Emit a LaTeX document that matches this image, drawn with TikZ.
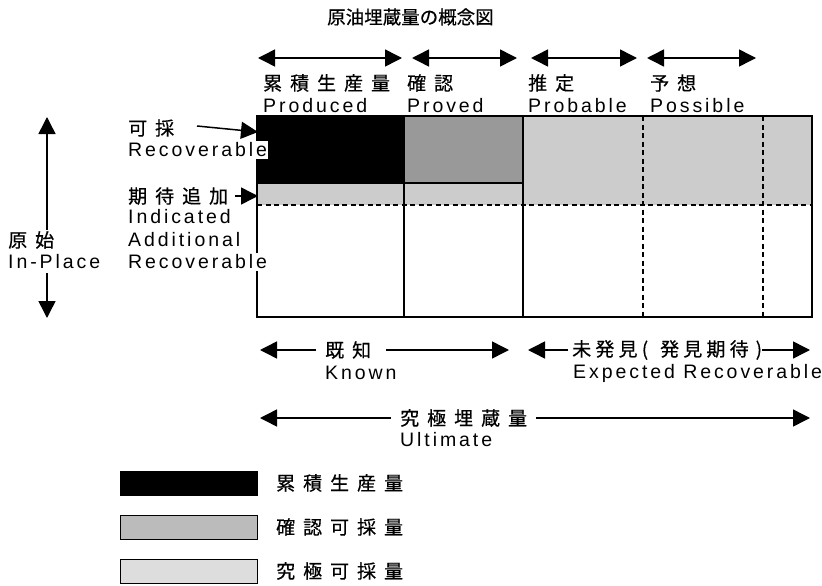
\documentclass[tikz,border=0pt]{standalone}
\usepackage{fontspec}
\setmainfont{Liberation Sans}
\newfontfamily\jpfont[FakeBold=0.5]{Noto Sans CJK JP}
\newfontfamily\jpspaced[LetterSpace=42,FakeBold=0.5]{Noto Sans CJK JP}
\newfontfamily\jptight[LetterSpace=22,FakeBold=0.5]{Noto Sans CJK JP}
\newfontfamily\latspaced[LetterSpace=15]{Liberation Sans}
\usetikzlibrary{arrows.meta}
\definecolor{provedgray}{HTML}{999999}
\definecolor{ultgray}{HTML}{CCCCCC}
\definecolor{leggray}{HTML}{BBBBBB}
\definecolor{leglight}{HTML}{DDDDDD}
\tikzset{
  lat/.style={anchor=west, inner sep=0pt, font=\fontsize{19.5}{19.5}\selectfont\latspaced},
  jp/.style={anchor=west, inner sep=0pt, font=\fontsize{19}{19}\selectfont\jpspaced},
  jptightstyle/.style={anchor=west, inner sep=0pt, font=\fontsize{19}{19}\selectfont\jptight},
  tip/.style={line width=1.5pt, -{Triangle[length=17pt,width=17pt]}},
  dtip/.style={line width=1.5pt, {Triangle[length=17pt,width=17pt]}-{Triangle[length=17pt,width=17pt]}},
  frame/.style={line width=1.3pt},
  dashline/.style={line width=1.3pt, dash pattern=on 5pt off 3.5pt},
  whitebg/.style={fill=white, inner sep=1.5pt}
}
\begin{document}
\begin{tikzpicture}[x=1pt,y=-1pt]
\useasboundingbox (0,0) rectangle (822,586);
% title
\node[anchor=west, inner sep=0pt, font=\fontsize{18.5}{18.5}\selectfont\jpfont] (title) at (327,17) {原油埋蔵量の概念図};
% top arrows
\coordinate (a1l) at (258,58); \coordinate (a1r) at (402,58);
\coordinate (a2l) at (412,58); \coordinate (a2r) at (517,58);
\coordinate (a3l) at (531,58); \coordinate (a3r) at (637,58);
\coordinate (a4l) at (647,58); \coordinate (a4r) at (756,58);
\draw[dtip] (a1l) -- (a1r);
\draw[dtip] (a2l) -- (a2r);
\draw[dtip] (a3l) -- (a3r);
\draw[dtip] (a4l) -- (a4r);
\node[jp] (jprod) at (263,83) {累積生産量};
\node[lat] (eprod) at (263,106) {Produced};
\node[jp] (jprov) at (407,83) {確認};
\node[lat] (eprov) at (407,106) {Proved};
\node[jp] (jprob) at (528,83) {推定};
\node[lat] (eprob) at (528,106) {Probable};
\node[jp] (jposs) at (650,83) {予想};
\node[lat] (eposs) at (650,106) {Possible};
% main chart
\fill[ultgray] (257,116) rectangle (812,205);
\fill[black] (257,116) rectangle (404,183);
\fill[provedgray] (404,116) rectangle (523,183);
\draw[frame] (257,183) -- (523,183);
\draw[frame] (404,116) -- (404,317);
\draw[frame] (523,116) -- (523,317);
\draw[dashline] (257,205) -- (812,205);
\draw[dashline] (643,116) -- (643,317);
\draw[dashline] (763,116) -- (763,317);
\draw[frame] (257,116) rectangle (812,317);
% left labels
\node[jp] (jorig) at (8,240) {原始};
\node[lat] (eorig) at (8,262) {In-Place};
\coordinate (vtop) at (47,117); \coordinate (vtopb) at (47,230);
\coordinate (vbot) at (47,318); \coordinate (vbotb) at (47,273);
\draw[tip] (vtopb) -- (vtop);
\draw[tip] (vbotb) -- (vbot);
\node[jp] (jrec) at (128,128) {可採};
\node[lat, whitebg] (erec) at (126.5,150) {Recoverable};
\coordinate (recs) at (197,126); \coordinate (rect) at (258,132);
\draw[tip] (recs) -- (rect);
\node[jp] (jind) at (128,196) {期待追加};
\coordinate (inds) at (235,196); \coordinate (indt) at (258,196);
\draw[tip] (inds) -- (indt);
\node[lat] (eind1) at (128,217) {Indicated};
\node[lat] (eind2) at (128,240) {Additional};
\node[lat, whitebg] (eind3) at (126.5,262) {Recoverable};
% bottom arrows
\node[jp] (jknown) at (325,350) {既知};
\node[lat] (eknown) at (325,373) {Known};
\coordinate (kl) at (260,350); \coordinate (kla) at (316,350);
\coordinate (krb) at (386,350); \coordinate (kr) at (509,350);
\draw[tip] (kla) -- (kl);
\draw[tip] (krb) -- (kr);
\node[jptightstyle] (jexp) at (572,350) {未発見(\hspace{12pt}発見期待\hspace{7pt})};
\node[lat] (eexp) at (573,373) {Expected Recoverable};
\coordinate (el) at (528,350); \coordinate (ela) at (568,350);
\coordinate (er) at (810,350);
\draw[tip] (ela) -- (el);
\draw[tip] (jexp.east) -- (er);
\node[jp] (jult) at (400,418) {究極埋蔵量};
\node[lat] (eult) at (400,440) {Ultimate};
\coordinate (ul) at (260,418); \coordinate (ula) at (391,418);
\coordinate (urb) at (536,418); \coordinate (ur) at (810,418);
\draw[tip] (ula) -- (ul);
\draw[tip] (urb) -- (ur);
% legend
\draw[fill=black] (120,471) rectangle (257,495);
\draw[fill=leggray, line width=1pt] (120,515) rectangle (257,539);
\draw[fill=leglight, line width=1pt] (120,559) rectangle (257,583);
\node[jp] (leg1) at (276,483) {累積生産量};
\node[jp] (leg2) at (276,527) {確認可採量};
\node[jp] (leg3) at (276,571) {究極可採量};
\end{tikzpicture}
\end{document}
